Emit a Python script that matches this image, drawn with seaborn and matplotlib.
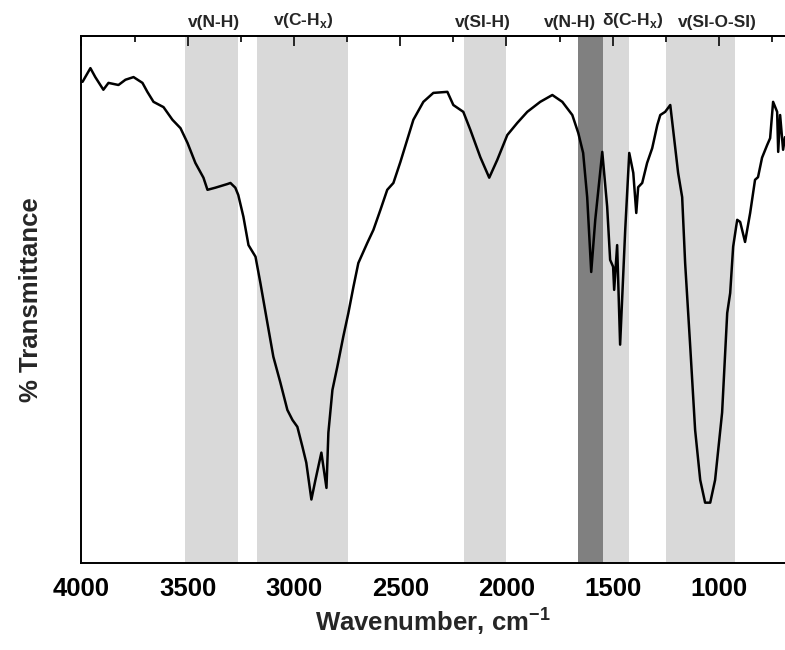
import numpy as np
import pandas as pd
import seaborn as sns
import matplotlib.pyplot as plt
from matplotlib.ticker import MultipleLocator, NullLocator

# --------------------------- DATA ---------------------------
wavenumber = [3995, 3958, 3935, 3897, 3873, 3826, 3793, 3755, 3713, 3690,
              3661, 3614, 3572, 3534, 3501, 3464, 3426, 3407, 3370, 3313,
              3299, 3276, 3262, 3238, 3214, 3181, 3158, 3125, 3097, 3064,
              3031, 3007, 2984, 2960, 2942, 2918, 2899, 2871, 2847, 2838,
              2819, 2796, 2768, 2744, 2720, 2697, 2655, 2626, 2593, 2561,
              2532, 2499, 2467, 2438, 2391, 2344, 2278, 2250, 2203, 2170,
              2123, 2081, 2043, 1996, 1949, 1902, 1841, 1784, 1737, 1690,
              1662, 1639, 1620, 1601, 1582, 1549, 1526, 1512, 1498, 1493,
              1479, 1465, 1441, 1422, 1403, 1389, 1380, 1361, 1338, 1314,
              1290, 1276, 1253, 1229, 1206, 1192, 1173, 1159, 1135, 1112,
              1088, 1065, 1041, 1018, 985, 961, 947, 933, 914, 900,
              877, 853, 830, 816, 797, 773, 759, 745, 726, 721,
              712, 698, 689]
transmittance = [91.3, 93.9, 92.2, 89.8, 91.1, 90.7, 91.7, 92.2, 91.1, 89.4,
                 87.5, 86.5, 84.1, 82.5, 79.7, 75.9, 73.1, 70.8, 71.2, 71.9,
                 72.1, 71.2, 69.8, 65.7, 60.3, 58.1, 53.1, 45.5, 39.1, 34.2,
                 29.0, 27.1, 25.8, 22.0, 19.0, 12.0, 15.7, 20.9, 14.2, 24.7,
                 32.8, 37.2, 42.9, 47.4, 52.4, 56.9, 60.7, 63.2, 67.0, 70.8,
                 72.1, 76.1, 80.3, 84.1, 87.5, 89.2, 89.4, 86.9, 85.6, 82.2,
                 77.0, 73.1, 76.5, 81.2, 83.5, 85.6, 87.5, 88.8, 87.5, 85.0,
                 81.6, 77.8, 69.4, 55.2, 65.1, 78.0, 67.6, 57.5, 56.2, 51.8,
                 60.3, 41.4, 63.2, 77.8, 74.0, 66.4, 71.3, 72.1, 75.9, 78.7,
                 83.1, 85.0, 85.6, 86.9, 78.9, 74.0, 69.4, 56.9, 41.0, 25.2,
                 15.7, 11.4, 11.4, 15.7, 28.5, 47.4, 51.2, 60.0, 65.1, 64.7,
                 60.9, 66.4, 72.7, 73.2, 76.9, 79.3, 80.6, 87.5, 85.6, 78.0,
                 85.0, 78.4, 80.8]

# band regions (start, end) and their labels
band_start = [3515, 3175, 2200, 1665, 1545, 1250]
band_end = [3265, 2745, 2000, 1545, 1425, 925]
band_color = ['#d9d9d9', '#d9d9d9', '#d9d9d9', '#808080', '#d9d9d9', '#d9d9d9']
band_labels = ['v(N-H)', 'v(C-H$_\\mathbf{x}$)', 'v(SI-H)', 'v(N-H)',
               'δ(C-H$_\\mathbf{x}$)', 'v(SI-O-SI)']
label_pos = [3374, 2956, 2109, 1700, 1403, 1008]

df = pd.DataFrame({'wn': wavenumber, 'T': transmittance})

# --------------------------- STYLE ---------------------------
sns.set_style('white')
plt.rcParams['font.family'] = ['Liberation Sans', 'DejaVu Sans']
plt.rcParams['font.weight'] = 'bold'
plt.rcParams['mathtext.fontset'] = 'custom'
plt.rcParams['mathtext.bf'] = 'Liberation Sans:bold'
plt.rcParams['mathtext.rm'] = 'Liberation Sans:bold'

fig = plt.figure(figsize=(7.85, 6.5), dpi=100)
ax = fig.add_axes([0.1038, 0.1343, 0.8962, 0.8103])

# shaded bands
for s, e, c in zip(band_start, band_end, band_color):
    ax.axvspan(s, e, color=c, lw=0, zorder=0)

sns.lineplot(data=df, x='wn', y='T', color='black', lw=1.8, ax=ax,
             errorbar=None, zorder=3)

ax.set_xlim(4000, 689)
ax.set_ylim(0, 100)

for sp in ['left', 'bottom', 'top']:
    ax.spines[sp].set_linewidth(1.4)
    ax.spines[sp].set_color('black')
ax.spines['right'].set_visible(False)

ax.xaxis.set_major_locator(MultipleLocator(500))
ax.xaxis.set_minor_locator(MultipleLocator(250))
ax.yaxis.set_major_locator(NullLocator())
ax.tick_params(axis='x', which='major', direction='out', length=7, width=1.4,
               labelsize=18.5, pad=3, colors='black')
ax.tick_params(axis='x', which='minor', direction='out', length=4, width=1.4)

top = ax.secondary_xaxis('top')
top.xaxis.set_major_locator(MultipleLocator(500))
top.xaxis.set_minor_locator(MultipleLocator(250))
top.tick_params(axis='x', which='major', direction='in', length=7, width=1.4,
                labeltop=False)
top.tick_params(axis='x', which='minor', direction='in', length=4, width=1.4)
top.spines['top'].set_linewidth(1.4)

ax.set_xlabel('Wavenumber, cm$^\\mathbf{-1}$', fontsize=18.5, fontweight='bold',
              labelpad=3)
ax.set_ylabel('% Transmittance', fontsize=18.5, fontweight='bold', labelpad=28)
for lab in ax.get_xticklabels():
    lab.set_fontweight('bold')

# band labels above the frame
for txt, xp in zip(band_labels, label_pos):
    ax.text(xp, 1.012, txt, transform=ax.get_xaxis_transform(), ha='center',
            va='bottom', fontsize=12.5, fontweight='bold')

fig.savefig('out.png', dpi=100)
plt.close()
